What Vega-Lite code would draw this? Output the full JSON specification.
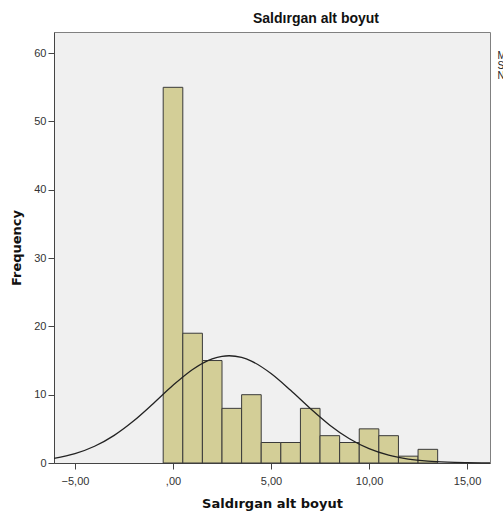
{
  "$schema": "https://vega.github.io/schema/vega-lite/v6.json",
  "autosize": {"type": "none"},
  "width": 436,
  "height": 431,
  "padding": {"left": 54, "top": 32, "right": 13, "bottom": 53},
  "background": "white",
  "config": {
    "view": {"fill": "#f0f0f0", "stroke": "#808080", "strokeWidth": 1},
    "font": "Liberation Sans",
    "axis": {"grid": false, "domainColor": "#444", "tickColor": "#444", "labelColor": "#333", "labelFontSize": 11, "labelFont": "Liberation Sans", "titleFont": "DejaVu Sans", "titleFontWeight": "bold", "titleFontSize": 13, "titleColor": "#111"}
  },
  "title": {"text": "Saldırgan alt boyut", "font": "Liberation Sans", "fontSize": 14, "fontWeight": "bold", "color": "#111", "anchor": "middle", "dx": 44, "offset": 6},
  "datasets": {
    "bins": [
      {"start": -0.5, "end": 0.5, "count": 55},
      {"start": 0.5, "end": 1.5, "count": 19},
      {"start": 1.5, "end": 2.5, "count": 15},
      {"start": 2.5, "end": 3.5, "count": 8},
      {"start": 3.5, "end": 4.5, "count": 10},
      {"start": 4.5, "end": 5.5, "count": 3},
      {"start": 5.5, "end": 6.5, "count": 3},
      {"start": 6.5, "end": 7.5, "count": 8},
      {"start": 7.5, "end": 8.5, "count": 4},
      {"start": 8.5, "end": 9.5, "count": 3},
      {"start": 9.5, "end": 10.5, "count": 5},
      {"start": 10.5, "end": 11.5, "count": 4},
      {"start": 11.5, "end": 12.5, "count": 1},
      {"start": 12.5, "end": 13.5, "count": 2}
    ],
    "curve": [
      {"x": -6.07, "y": 0.67},
      {"x": -5, "y": 1.37},
      {"x": -4, "y": 2.45},
      {"x": -3, "y": 4.05},
      {"x": -2, "y": 6.18},
      {"x": -1, "y": 8.72},
      {"x": 0, "y": 11.37},
      {"x": 1, "y": 13.7},
      {"x": 2, "y": 15.25},
      {"x": 2.5, "y": 15.62},
      {"x": 2.86, "y": 15.7},
      {"x": 3.5, "y": 15.45},
      {"x": 4, "y": 14.92},
      {"x": 5, "y": 13.1},
      {"x": 6, "y": 10.64},
      {"x": 7, "y": 7.99},
      {"x": 8, "y": 5.54},
      {"x": 9, "y": 3.55},
      {"x": 10, "y": 2.1},
      {"x": 11, "y": 1.15},
      {"x": 12, "y": 0.58},
      {"x": 13, "y": 0.27},
      {"x": 14, "y": 0.12},
      {"x": 15, "y": 0.05},
      {"x": 16.17, "y": 0.01}
    ],
    "legend": [
      {"x": 16.55, "y": 59.6, "label": "Mean = 2,86"},
      {"x": 16.55, "y": 58.1, "label": "Std. Dev. = 3,56"},
      {"x": 16.55, "y": 56.6, "label": "N = 140"}
    ]
  },
  "layer": [
    {
      "data": {"name": "bins"},
      "mark": {"type": "rect", "fill": "#d3ce97", "stroke": "#3a3a3a", "strokeWidth": 1},
      "encoding": {
        "x": {"field": "start", "type": "quantitative", "scale": {"domain": [-6.07, 16.17], "nice": false, "zero": false},
          "axis": {"values": [-5, 0, 5, 10, 15], "title": "Saldırgan alt boyut", "titlePadding": 11, "labelPadding": 6, "tickSize": 6,
            "labelExpr": "datum.value == 0 ? ',00' : replace(format(datum.value, '.2f'), '.', ',')"}},
        "x2": {"field": "end"},
        "y": {"field": "count", "type": "quantitative", "scale": {"domain": [0, 63.1], "nice": false},
          "axis": {"values": [0, 10, 20, 30, 40, 50, 60], "title": "Frequency", "titlePadding": 10, "tickSize": 6, "labelPadding": 2}},
        "y2": {"datum": 0}
      }
    },
    {
      "data": {"name": "curve"},
      "mark": {"type": "line", "color": "#222", "strokeWidth": 1.3, "interpolate": "monotone"},
      "encoding": {
        "x": {"field": "x", "type": "quantitative"},
        "y": {"field": "y", "type": "quantitative"}
      }
    },
    {
      "data": {"name": "legend"},
      "mark": {"type": "text", "align": "left", "baseline": "middle", "fontSize": 10, "color": "#222", "clip": false},
      "encoding": {
        "x": {"field": "x", "type": "quantitative"},
        "y": {"field": "y", "type": "quantitative"},
        "text": {"field": "label"}
      }
    }
  ]
}
